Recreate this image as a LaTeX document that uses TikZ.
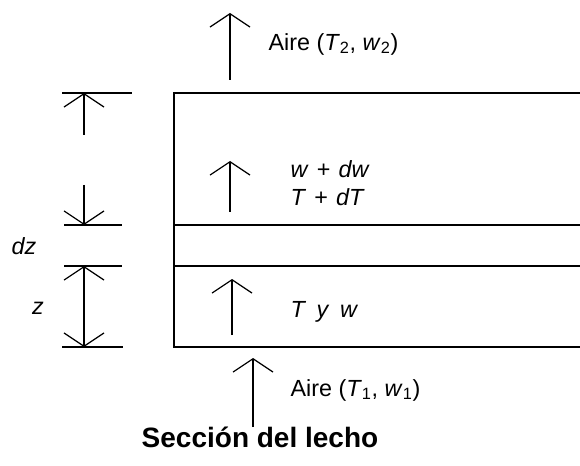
\documentclass[tikz,border=0pt]{standalone}
\usepackage{fontspec}
\setmainfont{Liberation Sans}
\usetikzlibrary{arrows.meta}
\tikzset{
  barb/.tip={Straight Barb[length=10pt,width=30pt,line width=0.9pt]},
  flow/.style={line width=0.9pt,-barb},
  lbl/.style={font=\fontsize{17.5}{21}\selectfont,inner sep=0pt}
}
\begin{document}
\begin{tikzpicture}[x=0.75pt,y=-0.75pt,line width=0.9pt]
\useasboundingbox (0,0) rectangle (580,466);
\draw (580,93) -- (174,93) -- (174,347) -- (580,347);
\draw (174,225) -- (580,225);
\draw (174,266) -- (580,266);
\coordinate (top) at (84,93);
\coordinate (up) at (84,225);
\coordinate (lo) at (84,266);
\coordinate (bot) at (84,347);
\draw (62,93) -- (132,93);
\draw (64,225) -- (122,225);
\draw (64,266) -- (122,266);
\draw (62,347) -- (123,347);
\draw[flow] (84,135) -- (top);
\draw[flow] (84,185) -- (up);
\draw[flow,barb-barb] (lo) -- (bot);
\coordinate (out) at (230,13);
\coordinate (mid) at (230,161);
\coordinate (low) at (232,279);
\coordinate (in) at (253,358);
\draw[flow] (230,80) -- (out);
\draw[flow] (230,212) -- (mid);
\draw[flow] (232,335) -- (low);
\draw[flow] (253,427) -- (in);
\node[lbl,anchor=west] (aire2) at (268,44) {Aire (\textit{T}\textsubscript{2}, \textit{w}\textsubscript{2})};
\node[lbl,anchor=west,align=left] (dw) at (290,183) {\textit{w}\hspace{0.35em}+\hspace{0.35em}\textit{dw}\\\textit{T}\hspace{0.35em}+\hspace{0.35em}\textit{dT}};
\node[lbl,anchor=west] (tyw) at (290,312) {\textit{T}\hspace{0.45em}\textit{y}\hspace{0.45em}\textit{w}};
\node[lbl,anchor=west] (aire1) at (290,390) {Aire (\textit{T}\textsubscript{1}, \textit{w}\textsubscript{1})};
\node[lbl] (dz) at (24,246) {\textit{dz}};
\node[lbl] (z) at (38,308) {\textit{z}};
\node[lbl,font=\fontsize{21}{24}\selectfont\bfseries] (secc) at (260,437) {Sección del lecho};
\end{tikzpicture}
\end{document}
